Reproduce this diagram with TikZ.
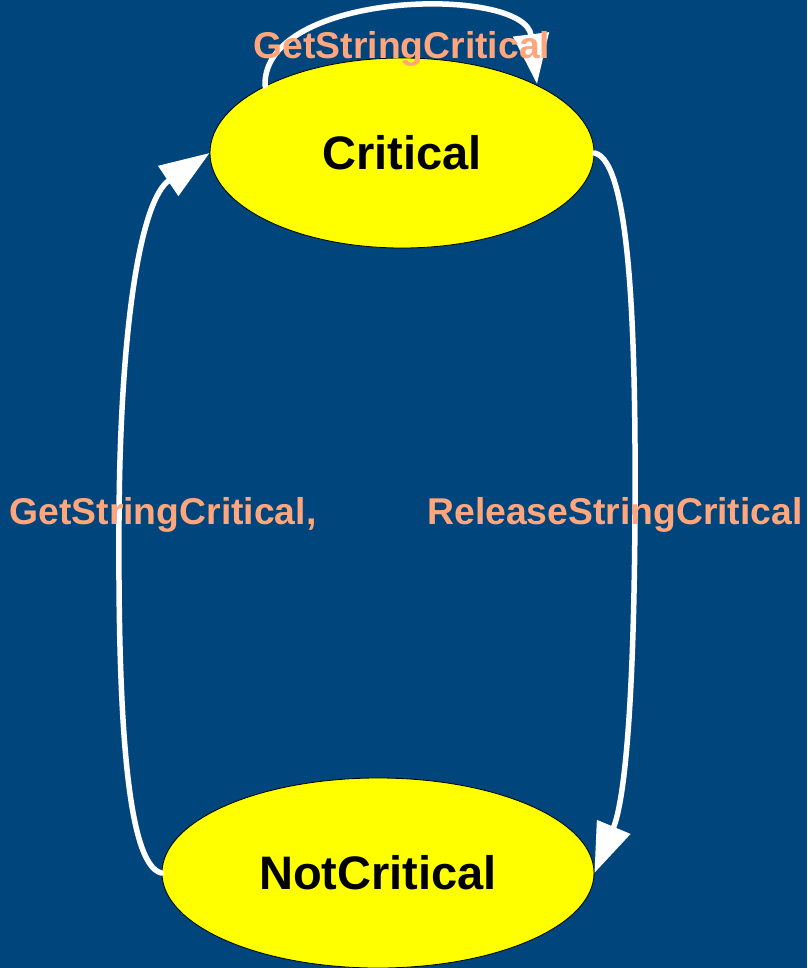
\documentclass[tikz,border=0pt]{standalone}
\usepackage{fontspec}
\setmainfont{Liberation Sans}
\usetikzlibrary{shapes.geometric,arrows.meta}
\definecolor{bgblue}{RGB}{0,69,124}
\definecolor{salmon}{RGB}{255,166,124}
\definecolor{stateyellow}{RGB}{255,255,0}
\tikzset{
  state/.style={ellipse, draw=black, line width=0.8pt, fill=stateyellow,
    inner sep=0pt, font=\fontsize{47}{56}\selectfont\bfseries, text=black},
  trans/.style={draw=white, line width=5.5pt, line cap=round,
    -{Triangle[length=50pt,width=35pt]}},
  tlabel/.style={text=salmon, inner sep=0pt, font=\fontsize{37.3}{44}\selectfont\bfseries}
}
\begin{document}
\begin{tikzpicture}[x=1pt,y=-1pt]
  \fill[bgblue] (0,0) rectangle (807,968);
  \useasboundingbox (0,0) rectangle (807,968);

  % states
  \node[state, minimum width=384pt, minimum height=190pt] (crit) at (402,153) {Critical};
  \node[state, minimum width=432pt, minimum height=190pt] (notcrit) at (378,873) {NotCritical};

  % helper points on the upper state for the self loop
  \coordinate (loopstart) at (265,86);
  \coordinate (loopend) at (537,84);

  % transitions
  \draw[trans] (notcrit.west) .. controls (125,865) and (118,700) .. (119,520)
                .. controls (120,330) and (140,200) .. (crit.west);
  \draw[trans] (crit.east) .. controls (630,160) and (636,330) .. (635,513)
                .. controls (634,700) and (625,800) .. (notcrit.east);
  \draw[trans] (loopstart) .. controls (262,-10) and (525,-15) .. (loopend);

  % transition labels
  \node[tlabel] (lbltop) at (402,49) {GetStringCritical};
  \node[tlabel] (lblleft) at (163,515) {GetStringCritical,};
  \node[tlabel] (lblright) at (615,515) {ReleaseStringCritical};
\end{tikzpicture}
\end{document}
